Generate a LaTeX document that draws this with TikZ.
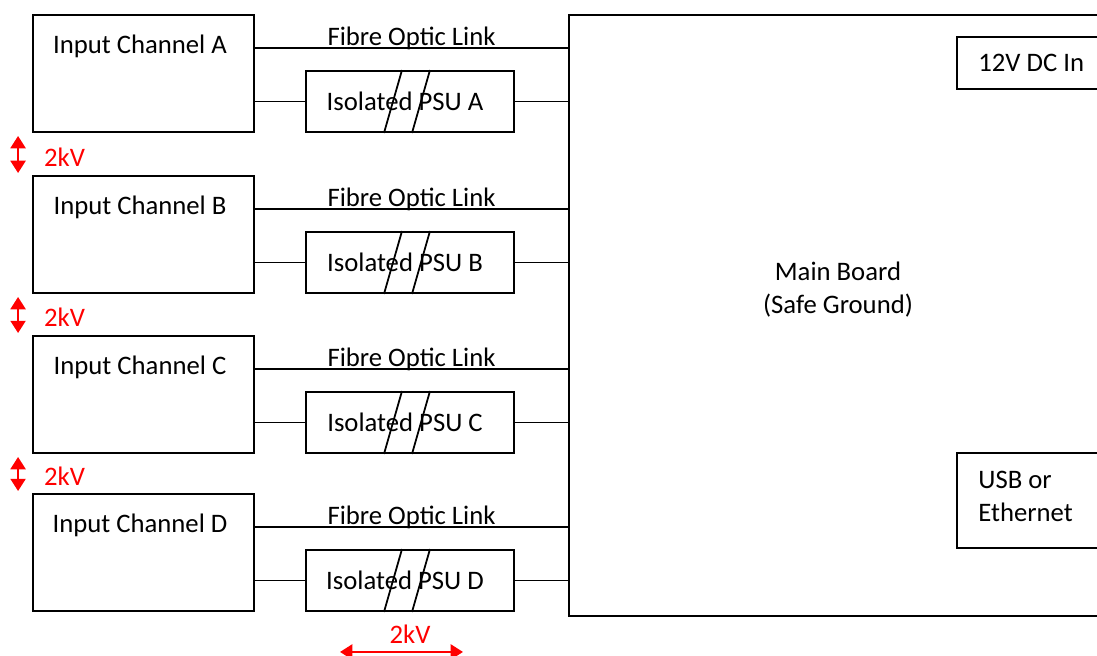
\documentclass[tikz,border=0pt]{standalone}
\usepackage{fontspec}
\setmainfont{Carlito}
\usetikzlibrary{arrows.meta}
\definecolor{kvRed}{HTML}{FF0000}

\begin{document}
\begin{tikzpicture}[
    x=0.02cm, y=-0.02cm,
    every node/.style={font=\fontsize{15.2}{18.7}\selectfont},
    chan/.style={
        rectangle, draw, line width=1.1pt,
        minimum width=4.42cm, minimum height=2.34cm, inner sep=0pt
    },
    psu/.style={
        rectangle, draw, line width=1.1pt,
        minimum width=4.16cm, minimum height=1.22cm, inner sep=0pt
    },
    side/.style={
        rectangle, draw, line width=1.1pt, anchor=north west,
        minimum width=3.08cm, inner sep=0pt
    },
    wire/.style={line width=1.1pt},
    slash/.style={line width=1pt},
    kv/.style={{Triangle[length=7pt,width=8.5pt]}-{Triangle[length=7pt,width=8.5pt]},
        line width=1.4pt, draw=kvRed},
    kvtext/.style={text=kvRed}
]
  \useasboundingbox (0,0) rectangle (1097,655);

  % Main board and its side boxes (cut off at the right edge)
  \node[rectangle, draw, line width=1.1pt, minimum width=10.82cm, minimum height=12.02cm,
        inner sep=0pt] (main) at (839.5,315.5) {};
  \node[align=center] (mainTxt) at (838,290) {Main Board\\(Safe Ground)};
  \node[side, minimum height=1.04cm] (dcIn) at (956,36) {};
  \node[anchor=west, inner xsep=0pt] (dcTxt) at (978,63) {12V DC In};
  \node[side, minimum height=1.9cm] (usb) at (956,452) {};
  \node[anchor=west, align=left, inner xsep=0pt] (usbTxt) at (978,496) {USB or\\Ethernet};

  % Input channels
  \node[chan] (inA) at (143.5,73.5) {};
  \node (inAtxt) at ([xshift=-0.07cm,yshift=-0.64cm]inA.north) {Input Channel A};
  \node[chan] (inB) at (143.5,234.5) {};
  \node (inBtxt) at ([xshift=-0.07cm,yshift=-0.64cm]inB.north) {Input Channel B};
  \node[chan] (inC) at (143.5,394.5) {};
  \node (inCtxt) at ([xshift=-0.07cm,yshift=-0.64cm]inC.north) {Input Channel C};
  \node[chan] (inD) at (143.5,552.5) {};
  \node (inDtxt) at ([xshift=-0.07cm,yshift=-0.64cm]inD.north) {Input Channel D};

  % Isolated supplies
  \node[psu] (psuA) at (410,101.5) {Isolated PSU A\kern0.2cm};
  \node[psu] (psuB) at (410,262.5) {Isolated PSU B\kern0.2cm};
  \node[psu] (psuC) at (410,422.5) {Isolated PSU C\kern0.2cm};
  \node[psu] (psuD) at (410,580.5) {Isolated PSU D\kern0.2cm};

  % Isolation barrier slashes
  \draw[slash] ([xshift=-0.52cm]psuA.south) -- ([xshift=-0.16cm]psuA.north);
  \draw[slash] ([xshift=0.04cm]psuA.south) -- ([xshift=0.4cm]psuA.north);
  \draw[slash] ([xshift=-0.52cm]psuB.south) -- ([xshift=-0.16cm]psuB.north);
  \draw[slash] ([xshift=0.04cm]psuB.south) -- ([xshift=0.4cm]psuB.north);
  \draw[slash] ([xshift=-0.52cm]psuC.south) -- ([xshift=-0.16cm]psuC.north);
  \draw[slash] ([xshift=0.04cm]psuC.south) -- ([xshift=0.4cm]psuC.north);
  \draw[slash] ([xshift=-0.52cm]psuD.south) -- ([xshift=-0.16cm]psuD.north);
  \draw[slash] ([xshift=0.04cm]psuD.south) -- ([xshift=0.4cm]psuD.north);

  % Fibre optic links
  \coordinate (fA) at ([yshift=0.51cm]inA.east);
  \coordinate (fB) at ([yshift=0.51cm]inB.east);
  \coordinate (fC) at ([yshift=0.51cm]inC.east);
  \coordinate (fD) at ([yshift=0.51cm]inD.east);
  \draw[wire] (fA) -- (fA -| main.west) node[midway, yshift=0.19cm] {Fibre Optic Link};
  \draw[wire] (fB) -- (fB -| main.west) node[midway, yshift=0.19cm] {Fibre Optic Link};
  \draw[wire] (fC) -- (fC -| main.west) node[midway, yshift=0.19cm] {Fibre Optic Link};
  \draw[wire] (fD) -- (fD -| main.west) node[midway, yshift=0.19cm] {Fibre Optic Link};

  % Power paths
  \draw[wire] (inA.east |- psuA.west) -- (psuA.west);
  \draw[wire] (psuA.east) -- (psuA.east -| main.west);
  \draw[wire] (inB.east |- psuB.west) -- (psuB.west);
  \draw[wire] (psuB.east) -- (psuB.east -| main.west);
  \draw[wire] (inC.east |- psuC.west) -- (psuC.west);
  \draw[wire] (psuC.east) -- (psuC.east -| main.west);
  \draw[wire] (inD.east |- psuD.west) -- (psuD.west);
  \draw[wire] (psuD.east) -- (psuD.east -| main.west);

  % 2kV isolation between channels
  \draw[kv] ([xshift=-0.28cm,yshift=-0.06cm]inA.south west) -- ([xshift=-0.28cm,yshift=0.04cm]inB.north west)
      node[midway, right, xshift=0.38cm, yshift=-0.05cm, kvtext] {2kV};
  \draw[kv] ([xshift=-0.28cm,yshift=-0.06cm]inB.south west) -- ([xshift=-0.28cm,yshift=0.04cm]inC.north west)
      node[midway, right, xshift=0.38cm, yshift=-0.05cm, kvtext] {2kV};
  \draw[kv] ([xshift=-0.28cm,yshift=-0.06cm]inC.south west) -- ([xshift=-0.28cm,yshift=0.04cm]inD.north west)
      node[midway, right, xshift=0.38cm, yshift=-0.05cm, kvtext] {2kV};

  % 2kV across the isolated supply
  \coordinate (kvL) at ([xshift=-1.4cm,yshift=-0.8cm]psuD.south);
  \coordinate (kvR) at ([xshift=1.06cm,yshift=-0.8cm]psuD.south);
  \draw[kv] (kvL) -- (kvR);
  \node[kvtext] (kvTxt) at ([yshift=-0.44cm]psuD.south) {2kV};

\end{tikzpicture}
\end{document}
